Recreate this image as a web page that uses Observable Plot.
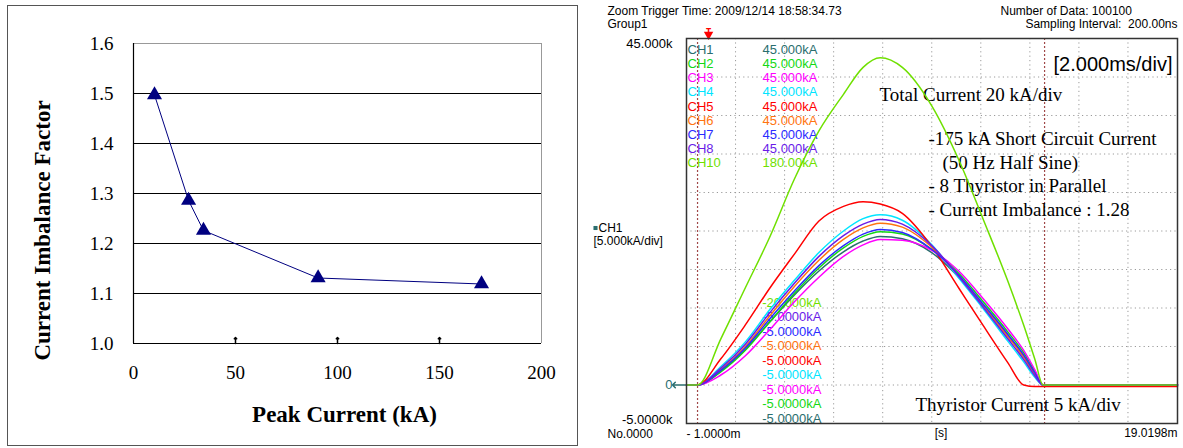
<!DOCTYPE html>
<html><head><meta charset="utf-8">
<script src="https://cdn.jsdelivr.net/npm/d3@7"></script>
<script src="https://cdn.jsdelivr.net/npm/@observablehq/plot@0.6"></script>
<style>
html,body{margin:0;padding:0;background:#fff;}
#wrap{position:relative;width:1183px;height:448px;overflow:hidden;background:#fff;}
#box{position:absolute;left:7px;top:5px;width:571px;height:441px;border:1px solid #555;box-sizing:border-box;}
#left{position:absolute;left:0;top:0;}
#right{position:absolute;left:590px;top:0;}
</style></head><body>
<div id="wrap"><div id="box"></div><div id="left"></div><div id="right"></div></div>
<script>
// ---------- Left chart data ----------
const peakCurrent = [10.3, 27.0, 34.3, 90.5, 170.6];
const imbalance   = [1.497, 1.286, 1.226, 1.131, 1.119];
const xTicksL = [0, 50, 100, 150, 200];
const yTicksL = [1.0, 1.1, 1.2, 1.3, 1.4, 1.5, 1.6];

// ---------- Right chart data (oscilloscope) ----------
const timeMs = [-1, -0.55, 0.4, 1.4, 2.4, 3.4, 4.4, 5.4, 6.2, 6.9, 7.8, 9.0, 10.1, 11.1, 12.1, 12.75, 13.2, 13.54, 19.0198];
const ch1  = [0, 0, 1.8, 4.6, 8.2, 11.7, 14.8, 17.3, 18.7, 19.3, 19.0, 17.2, 14.0, 10.3, 6.4, 3.7, 1.5, 0, 0];
const ch2  = [0, 0, 1.7, 4.5, 8.2, 11.9, 15.2, 17.8, 19.3, 19.9, 19.6, 17.6, 14.5, 10.8, 6.9, 4.2, 1.8, 0, 0];
const ch3  = [0, 0, 1.3, 3.8, 7.2, 10.8, 14.0, 16.7, 18.2, 18.9, 18.8, 17.5, 14.8, 11.2, 7.3, 4.5, 2.0, 0, 0];
const ch4  = [0, 0, 2.4, 5.6, 9.8, 13.6, 17.2, 20.0, 21.6, 22.1, 21.4, 18.2, 13.9, 9.9, 5.7, 3.0, 1.0, 0, 0];
const ch5  = [0, 0, 3.4, 7.8, 12.6, 17.0, 21.3, 23.2, 23.8, 23.5, 22.3, 18.0, 12.6, 7.7, 2.9, 0, -0.2, -0.2, -0.2];
const ch6  = [0, 0, 2.0, 5.0, 9.0, 12.8, 16.2, 18.9, 20.4, 21.0, 20.5, 17.9, 14.2, 10.3, 6.3, 3.6, 1.4, 0, 0];
const ch7  = [0, 0, 1.9, 4.8, 8.6, 12.2, 15.5, 18.1, 19.6, 20.2, 19.8, 17.6, 14.3, 10.5, 6.6, 3.9, 1.6, 0, 0];
const ch8  = [0, 0, 2.2, 5.3, 9.4, 13.2, 16.7, 19.4, 20.9, 21.5, 20.9, 18.1, 14.1, 10.1, 6.0, 3.3, 1.2, 0, 0];
const ch10 = [0, 0, 24, 50.5, 77, 107, 132, 151, 165, 170, 165, 145, 117, 86, 54, 31, 13.5, 0, 0]; // total, kA

const channelNames = ["CH1", "CH2", "CH3", "CH4", "CH5", "CH6", "CH7", "CH8", "CH10"];
const channelValues = [ch1, ch2, ch3, ch4, ch5, ch6, ch7, ch8, ch10];
const channelTop = ["45.000kA", "45.000kA", "45.000kA", "45.000kA", "45.000kA", "45.000kA", "45.000kA", "45.000kA", "180.00kA"];
const channelBottom = ["-5.0000kA", "-5.0000kA", "-5.0000kA", "-5.0000kA", "-5.0000kA", "-5.0000kA", "-5.0000kA", "-5.0000kA", "-20.000kA"];
const channelFullScale = [45, 45, 45, 45, 45, 45, 45, 45, 180];
const gridKA = [0, 5, 10, 15, 20, 25, 30, 35, 40];
const gridMs = [1, 3, 5, 7, 9, 11, 13, 15, 17];
const cursorMs = [-0.55, 13.6];
const triggerMs = [-0.1];
const yLabelTop = ["45.000k"], yLabelZero = ["0"], yLabelBottom = ["-5.0000k"];
const noteLines = ["-175 kA Short Circuit Current", "(50 Hz Half Sine)", "- 8 Thyristor in Parallel", "- Current Imbalance : 1.28"];

const colors = ["#2a6e6e", "#14d814", "#ff00ff", "#00e5ff", "#ff0000", "#ff7410", "#2b2bff", "#6a1be8", "#6fe000"];

// ---------- Left chart ----------
const pts = peakCurrent.map((x, i) => ({x, y: imbalance[i]}));
const serif = "Liberation Serif";
const left = Plot.plot({
  width: 590, height: 448,
  marginLeft: 133, marginRight: 49, marginTop: 43, marginBottom: 105,
  style: "background: transparent; overflow: visible;",
  x: {domain: [0, 200], axis: null},
  y: {domain: [1.0, 1.6], axis: null},
  marks: [
    Plot.text(xTicksL, {x: d => d, frameAnchor: "bottom", dy: 35, text: d => String(d), fontFamily: serif, fontSize: 19, fill: "#000"}),
    Plot.text(yTicksL, {y: d => d, frameAnchor: "left", dx: -20, textAnchor: "end", text: d3.format(".1f"), fontFamily: serif, fontSize: 19, fill: "#000"}),
    Plot.ruleY(yTicksL.slice(1, -1), {stroke: "#000", strokeWidth: 1}),
    Plot.ruleY([1.6], {stroke: "#999", strokeWidth: 1}),
    Plot.ruleX([200], {stroke: "#999", strokeWidth: 1}),
    Plot.ruleX([0], {stroke: "#000", strokeWidth: 1.2}),
    Plot.ruleY([1.0], {stroke: "#000", strokeWidth: 1.2}),
    Plot.vector(xTicksL.slice(1, -1), {x: d => d, y: () => 1.0, length: 6, rotate: 0, anchor: "start", stroke: "#000"}),
    Plot.line(pts, {x: "x", y: "y", stroke: "#000080", strokeWidth: 1}),
    Plot.dot(pts, {x: "x", y: "y", symbol: "triangle", r: 5.6, fill: "#000080", stroke: "none"}),
    Plot.text(["Current Imbalance Factor"], {frameAnchor: "left", textAnchor: "middle", dx: -91, dy: 37, rotate: -90, fontFamily: serif, fontWeight: "bold", fontSize: 23}),
    Plot.text(["Peak Current (kA)"], {frameAnchor: "bottom", textAnchor: "middle", dx: 7, dy: 78, fontFamily: serif, fontWeight: "bold", fontSize: 23})
  ]
});
document.getElementById("left").appendChild(left);

// ---------- Right chart ----------
const series = [];
channelNames.forEach((ch, k) => {
  const scale = 45 / channelFullScale[k];
  timeMs.forEach((t, i) => series.push({t, v: channelValues[k][i] * scale, ch}));
});

const sans = "Liberation Sans";
const txt = [];
const T = (s, o) => txt.push(Plot.text([s], {fontFamily: sans, fontSize: 12, fill: "#000", ...o}));
// header
T("Zoom Trigger Time: 2009/12/14 18:58:34.73", {frameAnchor: "top-left", dx: -79, dy: -32, textAnchor: "start"});
T("Group1", {frameAnchor: "top-left", dx: -79, dy: -19, textAnchor: "start"});
T("Number of Data: 100100", {frameAnchor: "top-left", dx: 314, dy: -32, textAnchor: "start"});
T("Sampling Interval:\u00a0 200.00ns", {frameAnchor: "top-right", dx: 0, dy: -19, textAnchor: "end"});
// left labels
T("CH1", {frameAnchor: "left", dx: -88, dy: -3, textAnchor: "start"});
T("[5.000kA/div]", {frameAnchor: "left", dx: -93, dy: 10, textAnchor: "start"});
T("No.0000", {frameAnchor: "bottom-left", dx: -79, dy: 14, textAnchor: "start"});
T("- 1.0000m", {frameAnchor: "bottom-left", dx: 0, dy: 14, textAnchor: "start"});
T("[s]", {frameAnchor: "bottom", textAnchor: "middle", dx: 9, dy: 13});
T("19.0198m", {frameAnchor: "bottom-right", dx: 0, dy: 13, textAnchor: "end"});
T("[2.000ms/div]", {frameAnchor: "top-right", dx: -5, dy: 18, textAnchor: "end", fontSize: 20});
// channel lists
channelNames.forEach((ch, i) => {
  T(ch, {frameAnchor: "top-left", dx: 1, dy: 6 + i * 14.2, textAnchor: "start", fill: colors[i], fontSize: 13});
  T(channelTop[i], {frameAnchor: "top-left", dx: 131, dy: 6 + i * 14.2, textAnchor: "end", fill: colors[i], fontSize: 13});
  const j = channelNames.length - 1 - i;
  T(channelBottom[j], {frameAnchor: "top-left", dx: 135, dy: 259 + i * 14.5, textAnchor: "end", fill: colors[j], fontSize: 13});
});
// serif annotations
const N = (s, o) => txt.push(Plot.text([s], {fontFamily: serif, fontSize: 19, fill: "#000", textAnchor: "start", ...o}));
N("Total Current 20 kA/div", {frameAnchor: "top-left", dx: 193, dy: 49});
noteLines.forEach((s, i) => N(s, {frameAnchor: "top-left", dx: i === 1 ? 256 : 242, dy: [93, 117, 140, 164][i]}));
N("Thyristor Current 5 kA/div", {frameAnchor: "bottom-left", dx: 229, dy: -13});

const right = Plot.plot({
  width: 593, height: 448,
  marginLeft: 96, marginRight: 6, marginTop: 38, marginBottom: 25,
  style: "background: transparent; overflow: visible;",
  x: {domain: [-1, 19.0198], axis: null},
  y: {domain: [-5, 45], axis: null},
  color: {domain: channelNames, range: colors},
  marks: [
    Plot.ruleY(gridKA, {stroke: "#9a9a9a", strokeDasharray: "1.2,3.2"}),
    Plot.ruleX(gridMs, {stroke: "#9a9a9a", strokeDasharray: "1.2,3.2"}),
    Plot.ruleX(cursorMs, {stroke: "#a04848", strokeDasharray: "2,2", strokeWidth: 1.2}),
    ...txt,
    Plot.dot(["CH1"], {frameAnchor: "left", dx: -91, dy: -3, symbol: "square", r: 2.3, fill: "#2a6e6e"}),
    Plot.text(yLabelTop, {x: () => -1, y: () => 45, dx: -14, textAnchor: "end", lineAnchor: "top", fontFamily: sans, fontSize: 13, fill: "#000"}),
    Plot.text(yLabelZero, {x: () => -1, y: () => 0, dx: -14, textAnchor: "end", fontFamily: sans, fontSize: 13, fill: "#2a6e6e"}),
    Plot.text(yLabelBottom, {x: () => -1, y: () => -5, dx: -14, textAnchor: "end", lineAnchor: "bottom", fontFamily: sans, fontSize: 13, fill: "#000"}),
    Plot.vector(yLabelZero, {x: () => -1, y: () => 0, length: 14, rotate: -90, anchor: "start", stroke: "#2a6e6e", strokeWidth: 1.5}),
    Plot.text(triggerMs, {x: d => d, frameAnchor: "top", dy: -11, text: () => "T", fill: "#ff0000", fontSize: 9, fontWeight: "bold"}),
    Plot.dot(triggerMs, {x: d => d, frameAnchor: "top", dy: -4, symbol: "triangle", rotate: 180, r: 3.5, fill: "#ff0000"}),
    Plot.line(series, {x: "t", y: "v", z: "ch", stroke: "ch", curve: "monotone-x", strokeWidth: 1.5}),
    Plot.frame({stroke: "#333", strokeWidth: 1.5})
  ]
});
document.getElementById("right").appendChild(right);
</script>
</body></html>
